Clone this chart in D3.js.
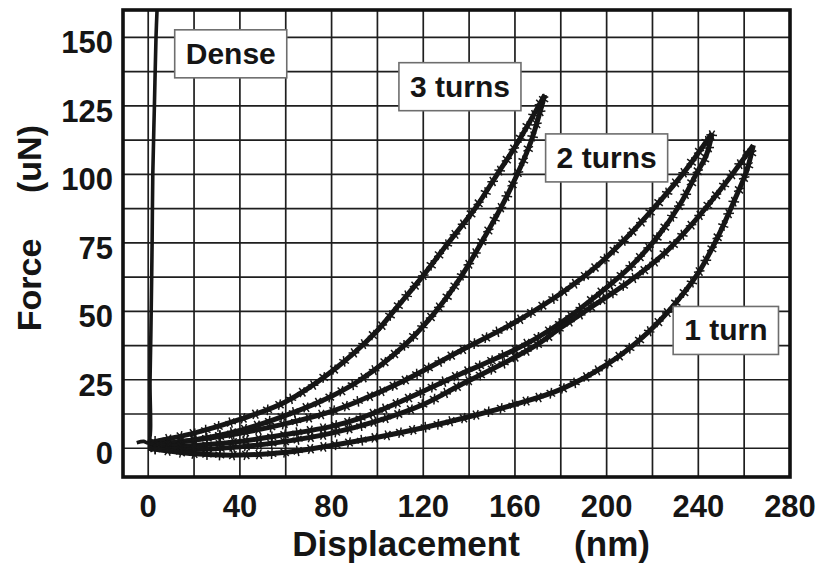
<!DOCTYPE html>
<html>
<head>
<meta charset="utf-8">
<script src="https://cdn.jsdelivr.net/npm/d3@7"></script>
<style>
  body { margin: 0; background: #fff; }
  svg { display: block; }
  text { font-family: "Liberation Sans", Arial, Helvetica, sans-serif; font-weight: bold; fill: #151515; }
</style>
</head>
<body>
<svg id="chart" width="821" height="565"></svg>
<script>
// axis ticks / grid
const xTicks = [0, 40, 80, 120, 160, 200, 240, 280];
const yTicks = [0, 25, 50, 75, 100, 125, 150];
const xGrid = [0, 20, 40, 60, 80, 100, 120, 140, 160, 180, 200, 220, 240, 260];
const yGrid = [0, 12.5, 25, 37.5, 50, 62.5, 75, 87.5, 100, 112.5, 125, 137.5, 150];

// curves: [displacement nm, force uN]
const dense = [[-5, 2], [-2, 2.5], [0, 2], [0.8, 25], [1.3, 50], [1.7, 75], [2.0, 100], [2.7, 125], [3.4, 150], [4, 163]];

const threeTurnsUpper = [[0, 2], [20, 5.5], [40, 10.5], [60, 17], [80, 28], [100, 43], [107, 50], [119, 62], [130, 74], [143, 88], [151.5, 99], [160, 110], [167, 120], [173, 129]];
const threeTurnsLower = [[0, 1], [20, 3], [40, 6.5], [60, 12], [80, 19], [92.6, 25], [111, 37], [124.5, 49], [136, 62], [146, 76], [154, 88], [161, 100], [167, 112], [173, 129]];

const twoTurnsUpper = [[0, 1], [20, 3], [40, 5.5], [60, 9], [80, 13.5], [92.6, 17.5], [110, 24], [136, 35.5], [160, 46], [180, 56.5], [195, 66], [210, 78], [222, 89], [234, 101], [246, 115]];
const twoTurnsLower = [[0, 0.5], [20, 1], [40, 2.5], [60, 5], [80, 8], [92.6, 11], [110, 17], [136, 27], [155, 34], [170, 40.5], [182, 47], [196, 56], [210, 66], [222, 77], [232, 89], [239, 100], [243.5, 107], [246, 115]];

const oneTurnUpper = [[0, 0], [20, -0.5], [40, 0.5], [60, 2.5], [80, 5.5], [100, 10], [120, 16], [136, 23], [155, 31], [170, 38], [180, 44], [195, 52.5], [210, 61], [225, 71], [240, 84.5], [253, 98], [264, 110.6]];
const oneTurnLower = [[0, 0], [20, -2], [40, -2.5], [60, -1.5], [80, 1], [100, 4], [120, 7.5], [140, 11.5], [160, 16], [180, 21.5], [200, 30.5], [215, 40], [228, 51], [240, 64], [249, 78], [256, 91], [261, 101], [264, 110.6]];

// annotation boxes
const labelText = ["Dense", "3 turns", "2 turns", "1 turn"];
const labelX = [36, 136, 200, 252];
const labelY = [144, 132, 106, 43];

const svg = d3.select("#chart");

const x = d3.scaleLinear().domain([-11, 280]).range([123, 790]);
const y = d3.scaleLinear().domain([-10.5, 160]).range([477, 10]);

svg.append("defs").append("clipPath").attr("id", "plotClip")
    .append("rect")
    .attr("x", x.range()[0]).attr("y", y.range()[1])
    .attr("width", x.range()[1] - x.range()[0])
    .attr("height", y.range()[0] - y.range()[1]);

// grid
const grid = svg.append("g");
grid.selectAll("line.v").data(xGrid).enter().append("line")
    .attr("x1", d => x(d)).attr("x2", d => x(d))
    .attr("y1", y.range()[1]).attr("y2", y.range()[0])
    .attr("stroke", "#1e1e1e").attr("stroke-width", 1.7);
grid.selectAll("line.h").data(yGrid).enter().append("line")
    .attr("y1", d => y(d)).attr("y2", d => y(d))
    .attr("x1", x.range()[0]).attr("x2", x.range()[1])
    .attr("stroke", "#1e1e1e").attr("stroke-width", 1.7);

// curves
const line = d3.line().x(d => x(d[0])).y(d => y(d[1])).curve(d3.curveCatmullRom.alpha(0.5));
const plot = svg.append("g").attr("clip-path", "url(#plotClip)");

plot.append("path").datum(dense)
    .attr("d", line).attr("fill", "none")
    .attr("stroke", "#161616").attr("stroke-width", 3.6);

const loops = [threeTurnsUpper, threeTurnsLower, twoTurnsUpper, twoTurnsLower, oneTurnUpper, oneTurnLower];
const asterisk = d3.symbol().type(d3.symbolAsterisk).size(80);

loops.forEach(series => {
    const p = plot.append("path").datum(series)
        .attr("d", line).attr("fill", "none")
        .attr("stroke", "#161616").attr("stroke-width", 5)
        .attr("stroke-linejoin", "round");
    // spiky noise markers along the trace
    const node = p.node();
    const len = node.getTotalLength();
    const pts = [];
    for (let s = 7; s < len; s += 13) pts.push(node.getPointAtLength(s));
    plot.selectAll(null).data(pts).enter().append("path")
        .attr("d", asterisk)
        .attr("transform", (d, i) => `translate(${d.x},${d.y}) rotate(${(i * 37) % 90})`)
        .attr("fill", "none").attr("stroke", "#161616").attr("stroke-width", 1.5);
});

// frame
svg.append("rect")
    .attr("x", x.range()[0]).attr("y", y.range()[1])
    .attr("width", x.range()[1] - x.range()[0])
    .attr("height", y.range()[0] - y.range()[1])
    .attr("fill", "none").attr("stroke", "#111").attr("stroke-width", 3.6);

// tick labels
svg.selectAll("text.yt").data(yTicks).enter().append("text")
    .attr("x", 113).attr("y", d => y(d) + 16)
    .attr("text-anchor", "end").attr("font-size", 31)
    .text(d => d);
svg.selectAll("text.xt").data(xTicks).enter().append("text")
    .attr("x", d => x(d)).attr("y", 517)
    .attr("text-anchor", "middle").attr("font-size", 31)
    .text(d => d);

// axis titles
svg.append("text").attr("x", 406).attr("y", 556)
    .attr("text-anchor", "middle").attr("font-size", 35).text("Displacement");
svg.append("text").attr("x", 612).attr("y", 556)
    .attr("text-anchor", "middle").attr("font-size", 35).text("(nm)");
svg.append("text").attr("transform", "translate(41,285) rotate(-90)")
    .attr("text-anchor", "middle").attr("font-size", 34).text("Force");
svg.append("text").attr("transform", "translate(41,159) rotate(-90)")
    .attr("text-anchor", "middle").attr("font-size", 34).text("(uN)");

// label boxes
labelText.forEach((t, i) => {
    const g = svg.append("g").attr("transform", `translate(${x(labelX[i])},${y(labelY[i])})`);
    const rect = g.append("rect");
    const txt = g.append("text").attr("text-anchor", "middle").attr("y", 10)
        .attr("font-size", 30).text(t);
    const w = txt.node().getComputedTextLength() + 22;
    rect.attr("x", -w / 2).attr("y", -24).attr("width", w).attr("height", 48)
        .attr("fill", "#fff").attr("stroke", "#6e6e6e").attr("stroke-width", 1.6);
});
</script>
</body>
</html>
